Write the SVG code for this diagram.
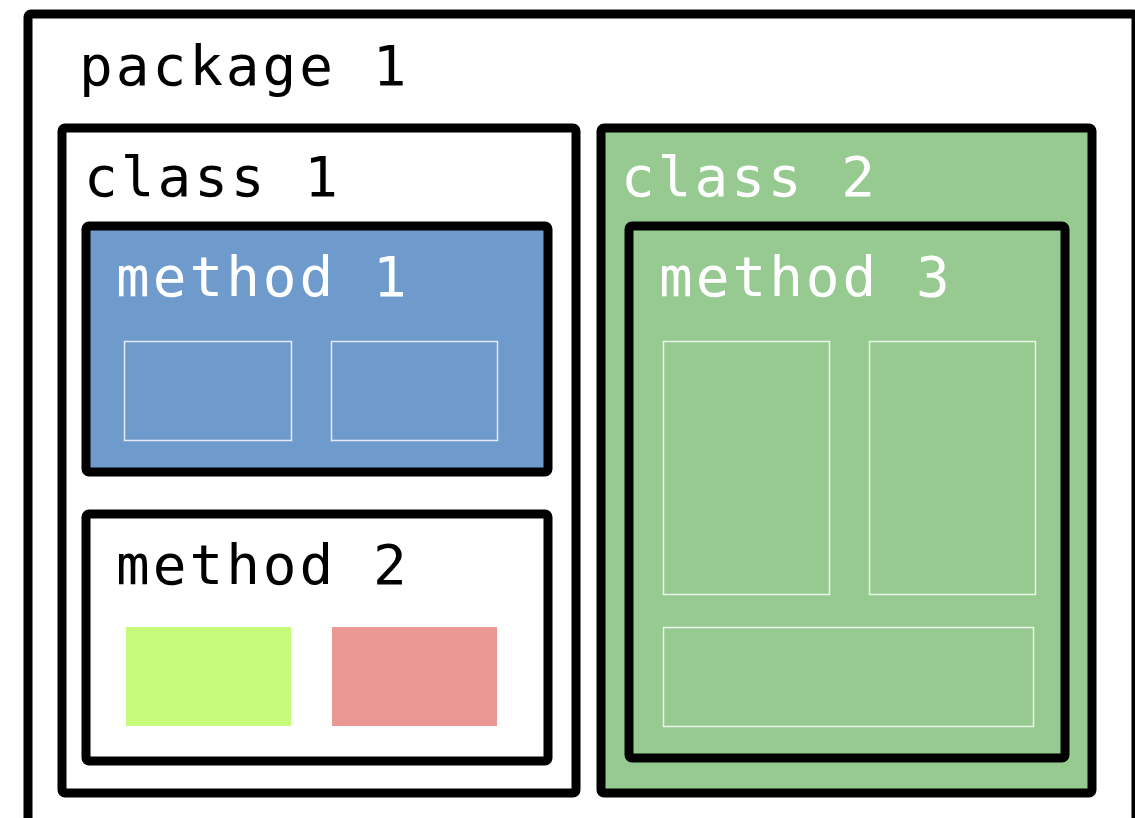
<svg xmlns="http://www.w3.org/2000/svg" width="1135" height="818" viewBox="0 0 1135 818">
<style>
.box{stroke:#000;stroke-width:9;stroke-linejoin:round}
.lbl{font-family:"DejaVu Sans Mono","Liberation Mono",monospace;font-size:56px;letter-spacing:3px}
.w{fill:#fff}
.b{fill:#000}
.inner{fill:none;stroke:#fff;stroke-opacity:0.8;stroke-width:1.5}
</style>
<rect width="1135" height="818" fill="#fff"/>
<g id="package1">
<rect class="box" x="28" y="14" width="1108" height="830" rx="3" fill="#fff" stroke-width="8"/>
<text class="lbl b" x="79" y="85">package 1</text>
</g>
<g id="class1">
<rect class="box" x="62" y="128" width="514" height="665" rx="3" fill="#fff"/>
<text class="lbl b" x="84" y="196">class 1</text>
</g>
<g id="method1">
<rect class="box" x="86" y="226" width="462" height="246" rx="3" fill="#6f9bcc"/>
<text class="lbl w" x="116" y="296">method 1</text>
<rect class="inner" x="124.5" y="341.5" width="167" height="99"/>
<rect class="inner" x="331.5" y="341.5" width="166" height="99"/>
</g>
<g id="method2">
<rect class="box" x="86" y="514" width="462" height="247" rx="3" fill="#fff"/>
<text class="lbl b" x="116" y="584">method 2</text>
<rect x="126" y="627" width="165" height="99" fill="#c6fc7a"/>
<rect x="332" y="627" width="165" height="99" fill="#eb9794"/>
</g>
<g id="class2">
<rect class="box" x="601" y="128" width="491" height="665" rx="3" fill="#96ca91"/>
<text class="lbl w" x="621" y="196">class 2</text>
</g>
<g id="method3">
<rect class="box" x="629" y="226" width="436" height="532" rx="3" fill="#96ca91"/>
<text class="lbl w" x="659" y="296">method 3</text>
<rect class="inner" x="663.5" y="341.5" width="166" height="253"/>
<rect class="inner" x="869.5" y="341.5" width="166" height="253"/>
<rect class="inner" x="663.5" y="627.5" width="370" height="99"/>
</g>
<g id="connectors"/>
</svg>
